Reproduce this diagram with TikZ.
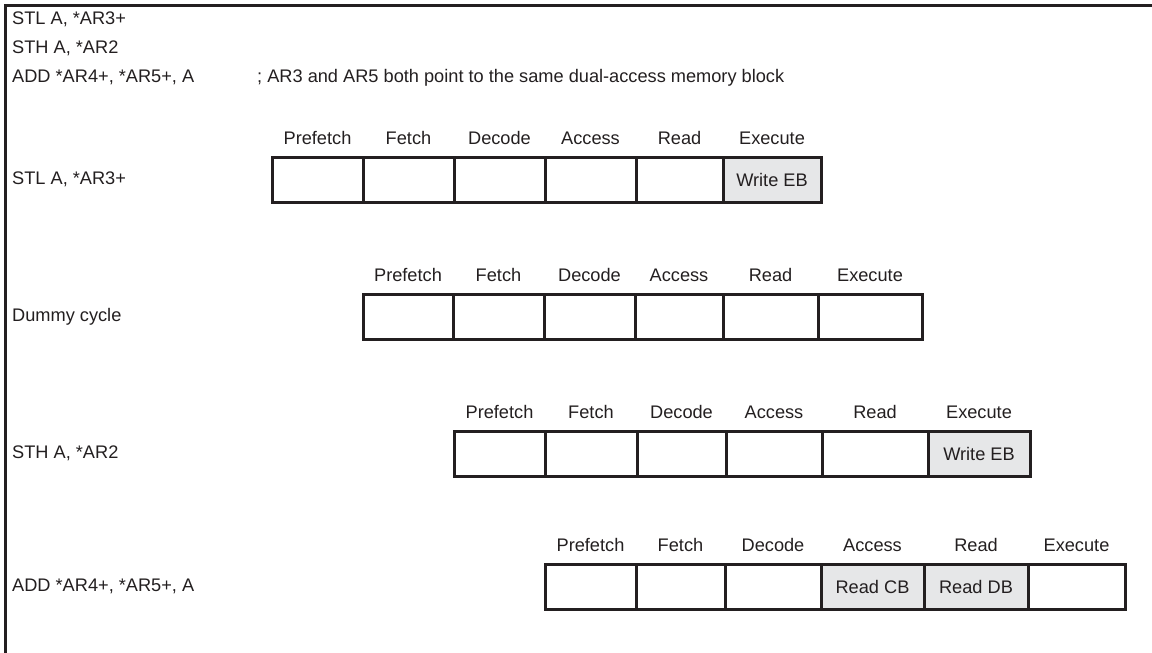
\documentclass[tikz,border=0pt]{standalone}
\usepackage{fontspec}
\setmainfont{Liberation Sans}
\definecolor{ink}{HTML}{231F20}
\definecolor{shade}{HTML}{E6E7E8}
\begin{document}
\begin{tikzpicture}[x=1pt,y=-1pt,
  every node/.style={font=\fontsize{18.2}{21}\selectfont, text=ink},
  cell/.style={draw=ink, line width=3pt, anchor=north west, minimum height=45pt, inner sep=0pt, outer sep=0pt},
  hit/.style={cell, fill=shade},
  lbl/.style={inner sep=0pt, anchor=center},
  txt/.style={inner sep=0pt, anchor=west}]
\useasboundingbox (0,0) rectangle (1152,653);
% frame
\coordinate (fBL) at (5,653);
\coordinate (fTL) at (5,5);
\coordinate (fTR) at (1152,5);
\draw[ink, line width=3pt] (fBL) -- (fTL) -- (fTR);
% header
\node[txt] (h1) at (12,19.5) {STL A, *AR3+};
\node[txt] (h2) at (12,48.5) {STH A, *AR2};
\node[txt] (h3) at (12,77.5) {ADD *AR4+, *AR5+, A};
\node[txt] (h4) at (257,77.5) {; AR3 and AR5 both point to the same dual-access memory block};
% row 1
\node[txt] (n1) at (12,179.5) {STL A, *AR3+};
\node[cell, minimum width=91pt] (a1) at (272,157) {};
\node[cell, minimum width=91pt] (a2) at (363,157) {};
\node[cell, minimum width=91pt] (a3) at (454,157) {};
\node[cell, minimum width=91pt] (a4) at (545,157) {};
\node[cell, minimum width=87pt] (a5) at (636,157) {};
\node[hit, minimum width=98pt] (a6) at (723,157) {Write EB};
\node[lbl] (al1) at ([yshift=19pt]a1.north) {Prefetch};
\node[lbl] (al2) at ([yshift=19pt]a2.north) {Fetch};
\node[lbl] (al3) at ([yshift=19pt]a3.north) {Decode};
\node[lbl] (al4) at ([yshift=19pt]a4.north) {Access};
\node[lbl] (al5) at ([yshift=19pt]a5.north) {Read};
\node[lbl] (al6) at ([yshift=19pt]a6.north) {Execute};
% row 2
\node[txt] (n2) at (12,316.5) {Dummy cycle};
\node[cell, minimum width=90pt] (b1) at (363,294) {};
\node[cell, minimum width=91pt] (b2) at (453,294) {};
\node[cell, minimum width=91pt] (b3) at (544,294) {};
\node[cell, minimum width=88pt] (b4) at (635,294) {};
\node[cell, minimum width=95pt] (b5) at (723,294) {};
\node[cell, minimum width=104pt] (b6) at (818,294) {};
\node[lbl] (bl1) at ([yshift=19pt]b1.north) {Prefetch};
\node[lbl] (bl2) at ([yshift=19pt]b2.north) {Fetch};
\node[lbl] (bl3) at ([yshift=19pt]b3.north) {Decode};
\node[lbl] (bl4) at ([yshift=19pt]b4.north) {Access};
\node[lbl] (bl5) at ([yshift=19pt]b5.north) {Read};
\node[lbl] (bl6) at ([yshift=19pt]b6.north) {Execute};
% row 3
\node[txt] (n3) at (12,453.5) {STH A, *AR2};
\node[cell, minimum width=91pt] (c1) at (454,431) {};
\node[cell, minimum width=92pt] (c2) at (545,431) {};
\node[cell, minimum width=89pt] (c3) at (637,431) {};
\node[cell, minimum width=96pt] (c4) at (726,431) {};
\node[cell, minimum width=106pt] (c5) at (822,431) {};
\node[hit, minimum width=102pt] (c6) at (928,431) {Write EB};
\node[lbl] (cl1) at ([yshift=19pt]c1.north) {Prefetch};
\node[lbl] (cl2) at ([yshift=19pt]c2.north) {Fetch};
\node[lbl] (cl3) at ([yshift=19pt]c3.north) {Decode};
\node[lbl] (cl4) at ([yshift=19pt]c4.north) {Access};
\node[lbl] (cl5) at ([yshift=19pt]c5.north) {Read};
\node[lbl] (cl6) at ([yshift=19pt]c6.north) {Execute};
% row 4
\node[txt] (n4) at (12,586.5) {ADD *AR4+, *AR5+, A};
\node[cell, minimum width=91pt] (d1) at (545,564) {};
\node[cell, minimum width=89pt] (d2) at (636,564) {};
\node[cell, minimum width=96pt] (d3) at (725,564) {};
\node[hit, minimum width=103pt] (d4) at (821,564) {Read CB};
\node[hit, minimum width=104pt] (d5) at (924,564) {Read DB};
\node[cell, minimum width=97pt] (d6) at (1028,564) {};
\node[lbl] (dl1) at ([yshift=19pt]d1.north) {Prefetch};
\node[lbl] (dl2) at ([yshift=19pt]d2.north) {Fetch};
\node[lbl] (dl3) at ([yshift=19pt]d3.north) {Decode};
\node[lbl] (dl4) at ([yshift=19pt]d4.north) {Access};
\node[lbl] (dl5) at ([yshift=19pt]d5.north) {Read};
\node[lbl] (dl6) at ([yshift=19pt]d6.north) {Execute};
\end{tikzpicture}
\end{document}
